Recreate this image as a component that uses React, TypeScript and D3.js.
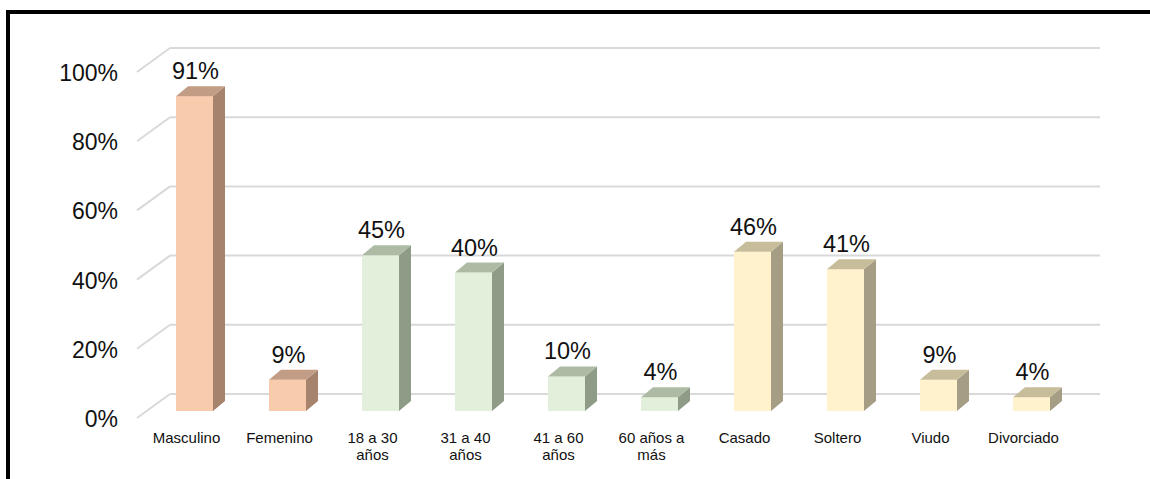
import React from "react";
import * as d3 from "d3";

// Survey profile: share of respondents per group
const categories: string[][] = [
  ["Masculino"],
  ["Femenino"],
  ["18 a 30", "años"],
  ["31 a 40", "años"],
  ["41 a 60", "años"],
  ["60 años a", "más"],
  ["Casado"],
  ["Soltero"],
  ["Viudo"],
  ["Divorciado"],
];
const values: number[] = [0.91, 0.09, 0.45, 0.4, 0.1, 0.04, 0.46, 0.41, 0.09, 0.04];
const groups: number[] = [0, 0, 1, 1, 1, 1, 2, 2, 2, 2];
const yTicks: number[] = [0, 0.2, 0.4, 0.6, 0.8, 1.0];

// front / side / top shades for each group
const palette = [
  { front: "#F8CBAD", side: "#A6836C", top: "#C29C85" },
  { front: "#E2EFDA", side: "#8E9C87", top: "#ADBBA5" },
  { front: "#FFF2CC", side: "#A59D84", top: "#C7BD9A" },
];

const W = 1150;
const H = 479;
const depthX = 33;
const depthY = 24;
const barDX = 12;
const barDY = 10;
const barW = 37;

export default function App() {
  const x = d3
    .scaleBand<number>()
    .domain(d3.range(categories.length))
    .range([140, 1070])
    .paddingInner(0)
    .paddingOuter(0);
  const yBack = d3.scaleLinear().domain([0, 1]).range([394, 48]);
  const yBar = d3.scaleLinear().domain([0, 1]).range([411, 65]);
  const pct = d3.format(".0%");
  const font = "Liberation Sans, Arial, sans-serif";

  return (
    <svg
      width={W}
      height={H}
      style={{ position: "absolute", left: 0, top: 0, background: "#fff" }}
    >
      {/* frame */}
      <line x1={8} y1={12} x2={W} y2={12} stroke="#000" strokeWidth={4} />
      <line x1={8} y1={10} x2={8} y2={H} stroke="#000" strokeWidth={4} />

      {/* gridlines: floor-edge diagonal plus back-wall line */}
      {yTicks.map((t) => (
        <g key={t}>
          <line
            x1={170 - depthX}
            y1={yBack(t) + depthY}
            x2={170}
            y2={yBack(t)}
            stroke="#d9d9d9"
            strokeWidth={2}
          />
          <line
            x1={170}
            y1={yBack(t)}
            x2={1100}
            y2={yBack(t)}
            stroke="#d9d9d9"
            strokeWidth={2}
          />
          <text
            x={118}
            y={yBack(t) + depthY + 9}
            textAnchor="end"
            fontFamily={font}
            fontSize={23}
            fill="#111"
          >
            {pct(t)}
          </text>
        </g>
      ))}

      {/* bars */}
      {values.map((v, i) => {
        const c = (x(i) as number) + x.bandwidth() / 2;
        const bx = c - 10.5;
        const top = yBar(v);
        const base = yBar(0);
        const col = palette[groups[i]];
        return (
          <g key={i}>
            <rect x={bx} y={top} width={barW} height={base - top} fill={col.front} />
            <polygon
              points={`${bx + barW},${top} ${bx + barW + barDX},${top - barDY} ${bx + barW + barDX},${base - barDY} ${bx + barW},${base}`}
              fill={col.side}
            />
            <polygon
              points={`${bx},${top} ${bx + barDX},${top - barDY} ${bx + barW + barDX},${top - barDY} ${bx + barW},${top}`}
              fill={col.top}
            />
            <text
              x={bx + barW / 2 + 1}
              y={top - 17}
              textAnchor="middle"
              fontFamily={font}
              fontSize={23.5}
              fill="#111"
            >
              {pct(v)}
            </text>
          </g>
        );
      })}

      {/* category labels */}
      {categories.map((lines, i) => {
        const c = (x(i) as number) + x.bandwidth() / 2;
        return (
          <text
            key={i}
            x={c}
            y={443}
            textAnchor="middle"
            fontFamily={font}
            fontSize={15}
            fill="#111"
          >
            {lines.map((ln, j) => (
              <tspan key={j} x={c} dy={j === 0 ? 0 : 17}>
                {ln}
              </tspan>
            ))}
          </text>
        );
      })}
    </svg>
  );
}
